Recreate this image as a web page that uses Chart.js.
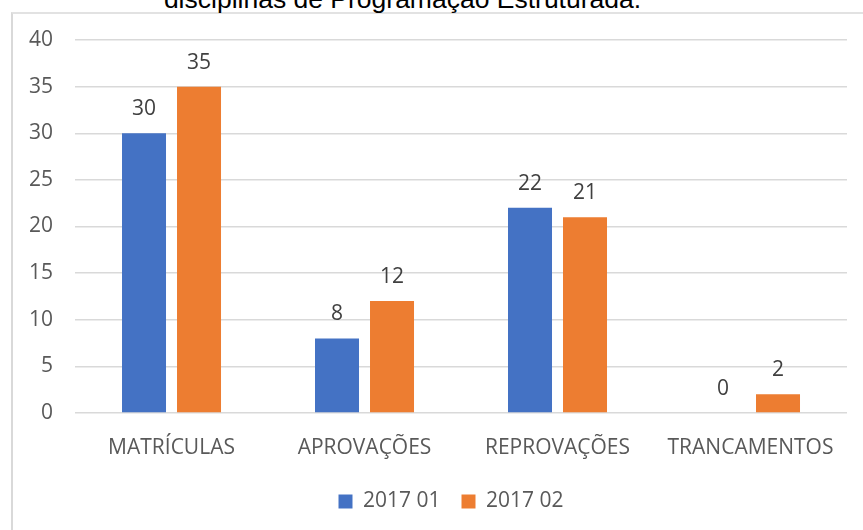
<!DOCTYPE html>
<html>
<head>
<meta charset="utf-8">
<script src="https://cdn.jsdelivr.net/npm/chart.js@4"></script>
<style>
  html, body { margin: 0; padding: 0; background: #fff; }
  #wrap { position: relative; width: 863px; height: 530px; overflow: hidden; }
  #frame { position: absolute; left: 11px; top: 12px; width: 880px; height: 560px;
           border-left: 2px solid #d9d9d9; border-top: 2px solid #e2e2e2; box-sizing: border-box; }
  #title { position: absolute; left: 0; top: -14px; width: 805px; text-align: center;
           font-family: "Liberation Sans", Arial, sans-serif; font-size: 26.5px; line-height: 26px; color: #000; white-space: nowrap; }
  #c { position: absolute; left: 0; top: 0; }
</style>
</head>
<body>
<div id="wrap">
  <div id="frame"></div>
  <div id="title">disciplinas de Programação Estruturada.</div>
  <canvas id="c" width="863" height="530"></canvas>
</div>
<script>
const categories = ["MATRÍCULAS", "APROVAÇÕES", "REPROVAÇÕES", "TRANCAMENTOS"];
const seriesNames = ["2017 01", "2017 02"];
const values2017_01 = [30, 8, 22, 0];
const values2017_02 = [35, 12, 21, 2];
const yTicks = [0, 5, 10, 15, 20, 25, 30, 35, 40];

const FONT = "'Open Sans', 'Noto Sans', sans-serif";

const valueLabels = {
  id: 'valueLabels',
  afterDatasetsDraw(chart) {
    const ctx = chart.ctx;
    ctx.save();
    ctx.font = "21px " + FONT;
    ctx.fillStyle = '#404040';
    ctx.textAlign = 'center';
    ctx.textBaseline = 'middle';
    chart.data.datasets.forEach((ds, i) => {
      const meta = chart.getDatasetMeta(i);
      meta.data.forEach((bar, j) => {
        ctx.fillText(String(ds.data[j]), bar.x, bar.y - 24);
      });
    });
    ctx.restore();
  }
};

const legendShift = {
  id: 'legendShift',
  afterLayout(chart) {
    if (chart.legend) { chart.legend.left += 48; }
  }
};

new Chart(document.getElementById('c'), {
  type: 'bar',
  data: {
    labels: categories,
    datasets: [
      { label: seriesNames[0], data: values2017_01, backgroundColor: '#4472C4',
        categoryPercentage: 0.57, barPercentage: 0.8 },
      { label: seriesNames[1], data: values2017_02, backgroundColor: '#ED7D31',
        categoryPercentage: 0.57, barPercentage: 0.8 }
    ]
  },
  options: {
    responsive: false,
    animation: false,
    devicePixelRatio: 1,
    layout: { padding: { left: 7, right: 16, top: 40, bottom: 8 } },
    plugins: {
      title: { display: false },
      tooltip: { enabled: false },
      legend: {
        position: 'bottom',
        labels: {
          boxWidth: 14, boxHeight: 14, padding: 21,
          color: '#595959',
          font: { family: FONT, size: 21 }
        }
      }
    },
    scales: {
      x: {
        grid: { display: false, drawTicks: false },
        border: { display: false },
        ticks: { color: '#595959', font: { family: FONT, size: 21 }, padding: 22, maxRotation: 0 },
        afterFit(scale) { scale.height = 57; }
      },
      y: {
        min: 0, max: 40,
        afterBuildTicks(scale) { scale.ticks = yTicks.map(v => ({ value: v })); },
        grid: { color: '#d9d9d9', lineWidth: 1.5, drawTicks: false },
        border: { display: false },
        ticks: { color: '#595959', font: { family: FONT, size: 21 }, padding: 22 }
      }
    }
  },
  plugins: [valueLabels, legendShift]
});
</script>
</body>
</html>
